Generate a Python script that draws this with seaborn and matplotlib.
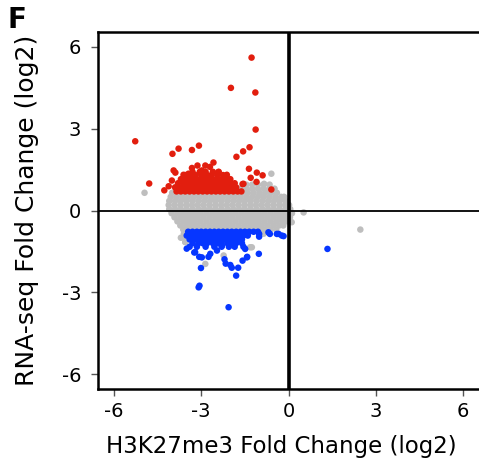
import matplotlib
matplotlib.use("Agg")
import matplotlib.pyplot as plt
import seaborn as sns
import pandas as pd

sns.set_theme(style="white")
plt.rcParams['font.family'] = ['DejaVu Sans']
plt.rcParams['text.color'] = 'black'
plt.rcParams['axes.labelcolor'] = 'black'
plt.rcParams['xtick.color'] = 'black'
plt.rcParams['ytick.color'] = 'black'

# ---- data ----
ticks = [-6, -3, 0, 3, 6]
x_label = "H3K27me3 Fold Change (log2)"
y_label = "RNA-seq Fold Change (log2)"
panel_letter = "F"

# gray (non-significant) cloud, by rows
gray_levels = [0.95, 0.80, 0.65, 0.50, 0.35, 0.20, 0.05, -0.10, -0.25, -0.40, -0.55, -0.70, -0.85, -1.00, -1.15]
gray_xs = [
    [-1.45, -1.25, -1.05, -0.85, -0.65],
    [-3.85, -3.65, -3.45, -3.25, -3.05, -2.85, -2.65, -2.45, -2.25, -2.05, -1.85, -1.65, -1.45, -1.25, -1.05, -0.85, -0.65, -0.48],
    [-4.0, -3.8, -3.6, -3.4, -3.2, -3.0, -2.8, -2.6, -2.4, -2.2, -2.0, -1.8, -1.6, -1.4, -1.2, -1.0, -0.8, -0.6, -0.4],
    [-4.05, -3.85, -3.65, -3.45, -3.25, -3.05, -2.85, -2.65, -2.45, -2.25, -2.05, -1.85, -1.65, -1.45, -1.25, -1.05, -0.85, -0.65, -0.45, -0.25, -0.15],
    [-4.1, -3.9, -3.7, -3.5, -3.3, -3.1, -2.9, -2.7, -2.5, -2.3, -2.1, -1.9, -1.7, -1.5, -1.3, -1.1, -0.9, -0.7, -0.5, -0.3, -0.1],
    [-4.12, -3.92, -3.72, -3.52, -3.32, -3.12, -2.92, -2.72, -2.52, -2.32, -2.12, -1.92, -1.72, -1.52, -1.32, -1.12, -0.92, -0.72, -0.52, -0.32, -0.12, 0.02],
    [-4.1, -3.9, -3.7, -3.5, -3.3, -3.1, -2.9, -2.7, -2.5, -2.3, -2.1, -1.9, -1.7, -1.5, -1.3, -1.1, -0.9, -0.7, -0.5, -0.3, -0.1, 0.06],
    [-4.02, -3.82, -3.62, -3.42, -3.22, -3.02, -2.82, -2.62, -2.42, -2.22, -2.02, -1.82, -1.62, -1.42, -1.22, -1.02, -0.82, -0.62, -0.42, -0.22, -0.05, 0.12],
    [-3.92, -3.72, -3.52, -3.32, -3.12, -2.92, -2.72, -2.52, -2.32, -2.12, -1.92, -1.72, -1.52, -1.32, -1.12, -0.92, -0.72, -0.52, -0.32, -0.12, 0.05],
    [-3.82, -3.62, -3.42, -3.22, -3.02, -2.82, -2.62, -2.42, -2.22, -2.02, -1.82, -1.62, -1.42, -1.22, -1.02, -0.82, -0.62, -0.42, -0.22, -0.05],
    [-3.72, -3.52, -3.32, -3.12, -2.92, -2.72, -2.52, -2.32, -2.12, -1.92, -1.72, -1.52, -1.32, -1.12, -0.92, -0.72, -0.52, -0.32, -0.18],
    [-3.62, -3.42, -3.22, -3.02, -2.82, -2.62, -2.42, -2.22, -2.02, -1.82, -1.62, -1.42, -1.22, -1.02, -0.82, -0.62, -0.42],
    [-3.6, -3.4, -3.2, -2.0, -1.0, -0.85],
    [-3.7, -3.55],
    [-3.55],
]
gray_out_x = [-4.95, -0.59, -0.84, 2.47, 0.52, -0.17, 0.11, -2.86, -2.23, -1.32, -3.55, -1.26]
gray_out_y = [0.65, 1.35, 0.98, -0.70, -0.07, 0.49, -0.43, -1.96, -1.65, -1.35, -1.16, -1.35]

# red (up-regulated) dense band, by rows
red_levels = [0.70, 0.85, 1.00, 1.15, 1.30, 1.42]
red_xs = [
    [-3.85, -3.7, -3.55, -3.4, -3.25, -3.1, -2.95, -2.8, -2.65, -2.5, -2.35, -2.2, -2.05, -1.9, -1.75, -1.62],
    [-3.9, -3.75, -3.6, -3.45, -3.3, -3.15, -3.0, -2.85, -2.7, -2.55, -2.4, -2.25, -2.1, -1.95, -1.8],
    [-3.8, -3.62, -3.48, -3.33, -3.18, -3.03, -2.88, -2.73, -2.58, -2.43, -2.28, -2.13, -1.98, -1.85],
    [-3.7, -3.5, -3.35, -3.2, -3.05, -2.9, -2.75, -2.6, -2.45, -2.3, -2.15, -2.0],
    [-3.55, -3.35, -3.2, -3.0, -2.8, -2.65, -2.45, -2.25],
    [-3.3, -3.05, -2.85, -2.6, -2.4],
]
red_out_x = [-1.27, -1.98, -1.14, -1.13, -5.27, -3.78, -3.99, -3.08, -3.32, -1.34, -1.56, -1.79, -2.58,
             -4.79, -4.27, -1.36, -1.09, -0.89, -1.30, -1.10, -0.59, -1.58, -3.95, -3.89, -3.32, -3.13,
             -2.86, -2.98, -2.41, -2.12, -3.61, -4.01, -4.12, -1.83, -1.55, -3.44, -2.70]
red_out_y = [5.61, 4.50, 4.33, 2.97, 2.54, 2.27, 2.08, 2.38, 2.22, 2.32, 2.17, 1.97, 1.76,
             0.99, 0.74, 1.53, 1.39, 1.29, 1.20, 1.05, 0.77, 0.97, 1.47, 1.39, 1.56, 1.65,
             1.65, 1.47, 1.41, 1.31, 1.31, 1.10, 0.89, 0.80, 0.98, 1.35, 1.60]

# blue (down-regulated) dense band, by rows
blue_levels = [-0.78, -0.92, -1.06, -1.20, -1.33]
blue_xs = [
    [-3.45, -3.3, -3.15, -3.0, -2.85, -2.7, -2.55, -2.4, -2.25, -2.1, -1.95, -1.8, -1.65, -1.5, -1.35, -1.2, -1.05],
    [-3.5, -3.35, -3.2, -3.05, -2.9, -2.75, -2.6, -2.45, -2.3, -2.15, -2.0, -1.85, -1.7, -1.55, -1.4],
    [-3.4, -3.25, -3.1, -2.95, -2.8, -2.65, -2.5, -2.35, -2.2, -2.05, -1.9, -1.75, -1.6],
    [-3.3, -3.1, -2.95, -2.8, -2.6, -2.45, -2.3, -2.1, -1.95, -1.8, -1.6],
    [-3.4, -3.15, -2.85, -2.55, -2.3, -2.05, -1.85, -1.55],
]
blue_out_x = [1.34, -2.06, -3.09, -3.06, -1.80, -1.95, -1.73, -3.01, -2.16, -2.20, -1.58, -1.42, -1.02,
              -2.75, -3.07, -3.24, -0.23, -0.34, -0.64, -1.01, -1.01, -3.21, -2.98, -2.69, -2.46,
              -2.29, -1.49, -1.43, -0.69, -0.40, -0.17, -3.50, -2.00]
blue_out_y = [-1.41, -3.55, -2.82, -2.76, -2.39, -2.10, -2.10, -2.11, -1.95, -1.79, -1.84, -1.70, -1.59,
              -1.70, -1.70, -1.54, -0.92, -0.86, -0.86, -0.86, -0.96, -1.53, -1.72, -1.59, -1.47,
              -1.29, -1.41, -1.72, -0.80, -0.86, -0.94, -1.40, -2.00]


def build(levels, xs, ox, oy, group):
    px, py = [], []
    for lv, row in zip(levels, xs):
        px += row
        py += [lv] * len(row)
    px += ox
    py += oy
    return pd.DataFrame({"x": px, "y": py, "group": group})


df = pd.concat([
    build(gray_levels, gray_xs, gray_out_x, gray_out_y, "ns"),
    build(red_levels, red_xs, red_out_x, red_out_y, "up"),
    build(blue_levels, blue_xs, blue_out_x, blue_out_y, "down"),
], ignore_index=True)

palette = {"ns": "#BEBEBE", "up": "#E21E0E", "down": "#0636FF"}

fig = plt.figure(figsize=(4.79, 4.69), dpi=100)
ax = fig.add_axes([98 / 479, 1 - 389 / 469, 381 / 479, 357 / 469])

sns.scatterplot(data=df, x="x", y="y", hue="group", palette=palette,
                hue_order=["ns", "up", "down"], s=22, linewidth=0, legend=False, ax=ax,
                zorder=2)

ax.axvline(0, color="black", lw=2.6, zorder=3)
ax.axhline(0, color="black", lw=1.3, zorder=3)

ax.set_xlim(-6.55, 6.55)
ax.set_ylim(-6.55, 6.55)
ax.set_xticks(ticks)
ax.set_yticks(ticks)
ax.set_xticklabels([str(t) for t in ticks])
ax.set_yticklabels([str(t) for t in ticks])
ax.tick_params(axis="both", direction="out", length=5, width=1, color="#555555",
               labelsize=14, labelcolor="black", bottom=True, left=True)
ax.tick_params(axis="x", pad=4)
ax.tick_params(axis="y", pad=7)

for side in ["left", "bottom", "top"]:
    ax.spines[side].set_visible(True)
    ax.spines[side].set_color("black")
    ax.spines[side].set_linewidth(1.8)
ax.spines["right"].set_visible(False)

ax.set_xlabel(x_label, fontsize=16.5, color="black")
ax.set_ylabel(y_label, fontsize=18, color="black")
ax.xaxis.set_label_coords(0.48, -0.13)
ax.yaxis.set_label_coords(-0.155, 0.5)

fig.text(8 / 479, 1 - 6 / 469, panel_letter, fontsize=20, fontweight="bold",
         ha="left", va="top", color="black")

fig.savefig("out.png", dpi=100)
